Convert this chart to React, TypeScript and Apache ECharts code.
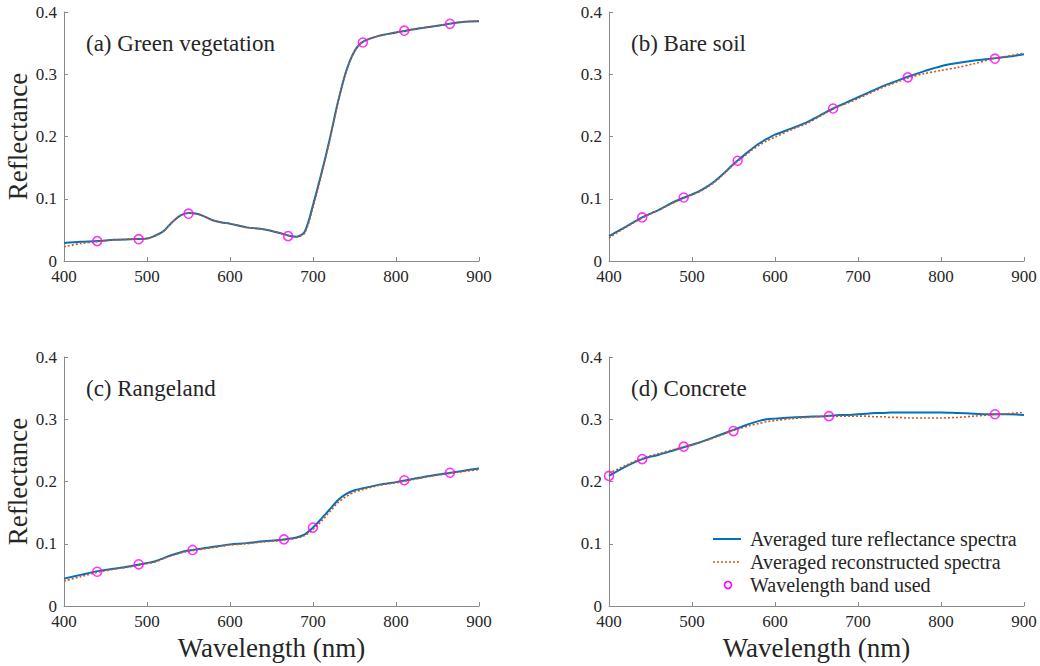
import React, { useEffect, useRef } from "react";
import * as echarts from "echarts";

const WL = [400, 420, 440, 460, 480, 500, 510, 520, 530, 540, 550, 560, 570, 580, 590, 600, 620, 640, 660, 670, 680, 690, 700, 710, 720, 730, 740, 750, 760, 780, 800, 820, 840, 860, 880, 900];

const vegTrue = [0.029, 0.031, 0.032, 0.034, 0.035, 0.036, 0.041, 0.048, 0.062, 0.073, 0.077, 0.076, 0.071, 0.065, 0.062, 0.060, 0.054, 0.051, 0.045, 0.041, 0.039, 0.047, 0.090, 0.140, 0.195, 0.255, 0.305, 0.337, 0.352, 0.362, 0.367, 0.372, 0.376, 0.380, 0.384, 0.385];
const vegRecon = [0.023, 0.028, 0.031, 0.034, 0.035, 0.036, 0.040, 0.048, 0.062, 0.073, 0.077, 0.076, 0.071, 0.065, 0.062, 0.060, 0.054, 0.051, 0.045, 0.041, 0.039, 0.045, 0.086, 0.137, 0.193, 0.254, 0.304, 0.337, 0.352, 0.362, 0.367, 0.372, 0.376, 0.380, 0.384, 0.386];

const soilTrue = [0.040, 0.055, 0.070, 0.082, 0.096, 0.107, 0.113, 0.121, 0.131, 0.143, 0.156, 0.167, 0.178, 0.188, 0.196, 0.203, 0.213, 0.224, 0.238, 0.245, 0.251, 0.257, 0.263, 0.269, 0.275, 0.281, 0.286, 0.291, 0.296, 0.305, 0.313, 0.318, 0.322, 0.325, 0.328, 0.332];
const soilRecon = [0.037, 0.054, 0.069, 0.082, 0.095, 0.106, 0.112, 0.120, 0.130, 0.142, 0.155, 0.165, 0.176, 0.185, 0.193, 0.199, 0.211, 0.222, 0.237, 0.244, 0.250, 0.255, 0.261, 0.267, 0.273, 0.279, 0.284, 0.289, 0.294, 0.301, 0.306, 0.311, 0.317, 0.324, 0.329, 0.334];

const rangeTrue = [0.044, 0.050, 0.056, 0.060, 0.064, 0.069, 0.072, 0.077, 0.082, 0.086, 0.089, 0.091, 0.093, 0.095, 0.097, 0.099, 0.101, 0.104, 0.106, 0.108, 0.110, 0.115, 0.126, 0.140, 0.155, 0.170, 0.180, 0.186, 0.189, 0.195, 0.199, 0.204, 0.209, 0.213, 0.217, 0.221];
const rangeRecon = [0.040, 0.047, 0.054, 0.059, 0.063, 0.068, 0.071, 0.076, 0.081, 0.085, 0.088, 0.090, 0.092, 0.094, 0.096, 0.098, 0.100, 0.103, 0.105, 0.107, 0.109, 0.113, 0.123, 0.136, 0.151, 0.166, 0.176, 0.183, 0.187, 0.194, 0.198, 0.203, 0.208, 0.212, 0.216, 0.219];

const concTrue = [0.209, 0.224, 0.236, 0.243, 0.251, 0.259, 0.263, 0.268, 0.273, 0.278, 0.283, 0.288, 0.293, 0.297, 0.300, 0.301, 0.303, 0.304, 0.305, 0.306, 0.307, 0.307, 0.308, 0.309, 0.310, 0.310, 0.311, 0.311, 0.311, 0.311, 0.311, 0.310, 0.309, 0.308, 0.308, 0.307];
const concRecon = [0.213, 0.226, 0.237, 0.245, 0.252, 0.259, 0.263, 0.267, 0.272, 0.277, 0.282, 0.286, 0.290, 0.293, 0.296, 0.298, 0.301, 0.303, 0.305, 0.305, 0.305, 0.305, 0.305, 0.305, 0.304, 0.304, 0.303, 0.303, 0.302, 0.302, 0.302, 0.303, 0.305, 0.307, 0.309, 0.311];

const vegBandsWl = [440, 490, 550, 670, 760, 810, 865];
const vegBandsVal = [0.032, 0.035, 0.076, 0.040, 0.351, 0.370, 0.381];
const soilBandsWl = [440, 490, 555, 670, 760, 865];
const soilBandsVal = [0.070, 0.102, 0.161, 0.245, 0.295, 0.325];
const rangeBandsWl = [440, 490, 555, 665, 700, 810, 865];
const rangeBandsVal = [0.055, 0.067, 0.090, 0.107, 0.126, 0.202, 0.214];
const concBandsWl = [400, 440, 490, 550, 665, 865];
const concBandsVal = [0.209, 0.236, 0.256, 0.281, 0.305, 0.308];

const panelTitles = ["(a) Green vegetation", "(b) Bare soil", "(c) Rangeland", "(d) Concrete"];
const xTicks = { min: 400, max: 900, interval: 100 };
const yTicks = { min: 0, max: 0.4, interval: 0.1 };
const legendNames = ["Averaged ture reflectance spectra", "Averaged reconstructed spectra", "Wavelength band used"];

const FONT = "Liberation Serif, Times New Roman, serif";
const AXIS_COLOR = "#8a8a8a";
const TEXT_COLOR = "#262626";
const BLUE = "#0072BD";
const ORANGE = "#D95319";
const MAGENTA = "#FF00FF";

const zip = (xs: number[], ys: number[]) => xs.map((x, i) => [x, ys[i]]);

export default function App() {
  const ref = useRef<HTMLDivElement>(null);
  useEffect(() => {
    if (!ref.current) return;
    const chart = echarts.init(ref.current, null, { renderer: "svg" });
    const grids = [
      { left: 64, top: 12, width: 415, height: 249 },
      { left: 609, top: 12, width: 415, height: 249 },
      { left: 64, top: 357, width: 415, height: 249 },
      { left: 609, top: 357, width: 415, height: 249 },
    ];
    const panels = [
      { t: vegTrue, r: vegRecon, bw: vegBandsWl, bv: vegBandsVal },
      { t: soilTrue, r: soilRecon, bw: soilBandsWl, bv: soilBandsVal },
      { t: rangeTrue, r: rangeRecon, bw: rangeBandsWl, bv: rangeBandsVal },
      { t: concTrue, r: concRecon, bw: concBandsWl, bv: concBandsVal },
    ];
    const axisCommon = {
      axisLine: { show: true, lineStyle: { color: AXIS_COLOR, width: 1 } },
      axisTick: { show: true, inside: true, length: 4, lineStyle: { color: AXIS_COLOR } },
      splitLine: { show: false },
    };
    const xAxis = grids.map((_, i) => ({
      type: "value",
      gridIndex: i,
      ...xTicks,
      ...axisCommon,
      axisLabel: { color: TEXT_COLOR, fontFamily: FONT, fontSize: 17, lineHeight: 15, margin: 8 },
      name: i >= 2 ? "Wavelength (nm)" : "",
      nameLocation: "middle",
      nameGap: 28,
      nameTextStyle: { fontFamily: FONT, fontSize: 27, color: TEXT_COLOR },
    }));
    const yAxis = grids.map((_, i) => ({
      type: "value",
      gridIndex: i,
      ...yTicks,
      ...axisCommon,
      axisLabel: { color: TEXT_COLOR, fontFamily: FONT, fontSize: 17, lineHeight: 15, margin: 7 },
      name: i % 2 === 0 ? "Reflectance" : "",
      nameLocation: "middle",
      nameGap: 32,
      nameTextStyle: { fontFamily: FONT, fontSize: 27, color: TEXT_COLOR },
    }));
    const series: any[] = [];
    panels.forEach((p, i) => {
      series.push({
        name: legendNames[0],
        type: "line",
        xAxisIndex: i,
        yAxisIndex: i,
        data: zip(WL, p.t),
        smooth: 0.3,
        symbol: "none",
        lineStyle: { color: BLUE, width: 2 },
        itemStyle: { color: BLUE },
        z: 2,
      });
      series.push({
        name: legendNames[1],
        type: "line",
        xAxisIndex: i,
        yAxisIndex: i,
        data: zip(WL, p.r),
        smooth: 0.3,
        symbol: "none",
        lineStyle: { color: ORANGE, width: 1.6, type: [2, 2] },
        itemStyle: { color: ORANGE },
        z: 3,
      });
      series.push({
        name: legendNames[2],
        type: "scatter",
        xAxisIndex: i,
        yAxisIndex: i,
        data: zip(p.bw, p.bv),
        symbol: "circle",
        symbolSize: 9,
        itemStyle: { color: "rgba(0,0,0,0)", borderColor: MAGENTA, borderWidth: 1.6 },
        z: 4,
      });
    });
    const titlePos = [
      { left: 86, top: 32 },
      { left: 631, top: 32 },
      { left: 86, top: 377 },
      { left: 631, top: 377 },
    ];
    const legendX = 713;
    const legendY = [539, 562, 585];
    const legendTextStyle = { fontFamily: FONT, fontSize: 20, fill: TEXT_COLOR, verticalAlign: "middle", align: "left" };
    chart.setOption({
      animation: false,
      backgroundColor: "#ffffff",
      title: panelTitles.map((t, i) => ({
        text: t,
        ...titlePos[i],
        padding: 0,
        textStyle: { fontFamily: FONT, fontSize: 23, fontWeight: "normal", color: TEXT_COLOR },
      })),
      grid: grids,
      xAxis,
      yAxis,
      graphic: [
        { type: "line", shape: { x1: legendX, y1: legendY[0], x2: legendX + 28, y2: legendY[0] }, style: { stroke: BLUE, lineWidth: 2 } },
        { type: "line", shape: { x1: legendX, y1: legendY[1], x2: legendX + 28, y2: legendY[1] }, style: { stroke: ORANGE, lineWidth: 1.6, lineDash: [2, 2] } },
        { type: "circle", shape: { cx: legendX + 15, cy: legendY[2], r: 3.5 }, style: { fill: "none", stroke: MAGENTA, lineWidth: 1.6 } },
        { type: "text", x: legendX + 37, y: legendY[0], style: { text: legendNames[0], ...legendTextStyle } },
        { type: "text", x: legendX + 37, y: legendY[1], style: { text: legendNames[1], ...legendTextStyle } },
        { type: "text", x: legendX + 37, y: legendY[2], style: { text: legendNames[2], ...legendTextStyle } },
      ],
      series,
    });
    return () => chart.dispose();
  }, []);
  return <div ref={ref} style={{ position: "fixed", left: 0, top: 0, width: 1040, height: 666 }} />;
}
